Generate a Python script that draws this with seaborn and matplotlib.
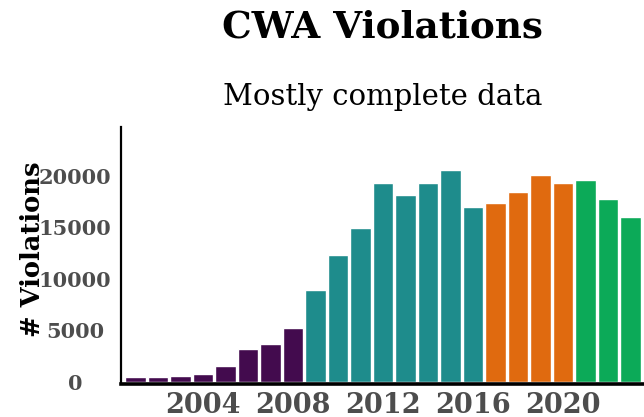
import pandas as pd
import seaborn as sns
import matplotlib.pyplot as plt

years = list(range(2001, 2024))
violations = [450, 450, 550, 740, 1520, 3170, 3650, 5200,
              8890, 12280, 14990, 19350, 18190, 19350, 20610, 17030,
              17420, 18480, 20130, 19350,
              19640, 17800, 16060]
groups = ['a'] * 8 + ['b'] * 8 + ['c'] * 4 + ['d'] * 3
colors = {'a': '#430b4e', 'b': '#1e8c8c', 'c': '#e06a0f', 'd': '#0caa58'}

df = pd.DataFrame({'year': years, 'count': violations, 'group': groups})

sns.set_style('white')
plt.rcParams['font.family'] = ['DejaVu Serif']
plt.rcParams['text.color'] = 'black'

fig = plt.figure(figsize=(6.44, 4.17), dpi=100)
ax = fig.add_axes([0.188, 0.084, 0.812, 0.611])

sns.barplot(data=df, x='year', y='count', hue='group', palette=colors,
            native_scale=True, dodge=False, width=0.93, legend=False,
            saturation=1, ax=ax)

ax.set_xlim(2000.36, 2023.6)
ax.set_ylim(0, max(violations) * 1.2)
ax.set_xticks([2004, 2008, 2012, 2016, 2020])
ax.set_yticks([0, 5000, 10000, 15000, 20000])
ax.set_xlabel('')
ax.set_ylabel('# Violations', fontsize=18.5, fontweight='bold', color='black')
ax.yaxis.set_label_coords(-0.146, 0.52)

for s in ['top', 'right']:
    ax.spines[s].set_visible(False)
ax.spines['left'].set_linewidth(1.6)
ax.spines['bottom'].set_linewidth(2.6)
ax.spines['bottom'].set_position(('outward', 1.5))
ax.spines['left'].set_color('black')
ax.spines['bottom'].set_color('black')

ax.tick_params(axis='x', length=5, width=1.6, color='#333333',
               labelsize=19.5, labelcolor='#4d4d4d', pad=0.5)
ax.tick_params(axis='y', length=4, width=1.2, color='#333333',
               labelsize=15, labelcolor='#4d4d4d', pad=29)
for lab in ax.get_xticklabels() + ax.get_yticklabels():
    lab.set_fontweight('bold')
for lab in ax.get_yticklabels():
    lab.set_ha('center')

fig.text(0.594, 0.935, 'CWA Violations', ha='center', va='center',
         fontsize=26.8, fontweight='bold', color='black')
fig.text(0.594, 0.767, 'Mostly complete data', ha='center', va='center',
         fontsize=21, color='black')

fig.savefig('out.png', dpi=100)
